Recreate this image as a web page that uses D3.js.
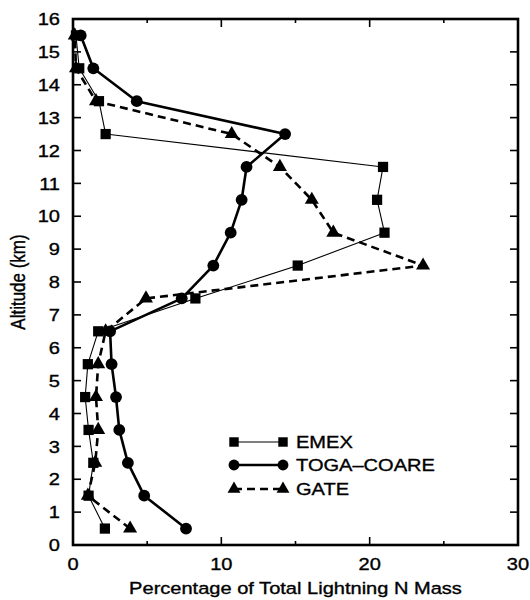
<!DOCTYPE html>
<html>
<head>
<meta charset="utf-8">
<script src="https://cdn.jsdelivr.net/npm/d3@7"></script>
<style>
  html, body { margin: 0; padding: 0; background: #fff; }
  svg { display: block; }
  text { font-family: "Liberation Sans", Arial, Helvetica, sans-serif; fill: #000; stroke: #000; stroke-width: 0.35; }
</style>
</head>
<body>
<div id="chart"></div>
<script>
// Vertical profile of lightning NOx mass, by altitude bin (km)
const altitudes = [0.5, 1.5, 2.5, 3.5, 4.5, 5.5, 6.5, 7.5, 8.5, 9.5, 10.5, 11.5, 12.5, 13.5, 14.5, 15.5];
const emex     = [2.15, 1.05, 1.37, 1.05, 0.82, 1.0, 1.7, 8.25, 15.15, 21.0, 20.5, 20.9, 2.2, 1.75, 0.42, 0.2];
const togaCoare= [7.62, 4.8, 3.7, 3.12, 2.9, 2.6, 2.5, 7.33, 9.46, 10.63, 11.37, 11.7, 14.3, 4.3, 1.37, 0.52];
const gate     = [3.85, 1.0, 1.5, 1.7, 1.55, 1.7, 2.2, 4.92, 23.6, 17.55, 16.1, 13.95, 10.7, 1.55, 0.2, 0.12];
const seriesNames = ["EMEX", "TOGA\u2013COARE", "GATE"];
const xTicksMajor = [0, 10, 20, 30];
const xTicksMinor = [5, 15, 25];
const yTicks = d3.range(0, 17);

const W = 530, H = 600;
const mLeft = 73, mRight = 518, mTop = 19, mBottom = 545;
const FS = 17;        // font size
const SX = 1.18;      // horizontal widening of the lettering

const svg = d3.select("#chart").append("svg").attr("width", W).attr("height", H);

const x = d3.scaleLinear().domain([0, 30]).range([mLeft, mRight]);
const y = d3.scaleLinear().domain([0, 16]).range([mBottom, mTop]);

const series = [
  { name: seriesNames[0], values: emex, width: 1.1, dash: null, symbol: d3.symbolSquare, size: 105 },
  { name: seriesNames[1], values: togaCoare, width: 2.6, dash: null, symbol: d3.symbolCircle, size: 110 },
  { name: seriesNames[2], values: gate, width: 2.6, dash: "8,5", symbol: d3.symbolTriangle, size: 85 }
];

// widened text helper
function label(g, px, py, str, anchor, dy) {
  return g.append("text")
    .attr("transform", `translate(${px},${py}) scale(${SX},1)`)
    .attr("text-anchor", anchor).attr("dy", dy || null)
    .attr("font-size", FS).text(str);
}

// axis ticks pointing inward on all four sides
const tickG = svg.append("g").attr("stroke", "#000").attr("stroke-width", 1.6);
yTicks.forEach(t => {
  if (t === 0 || t === 16) return;
  tickG.append("line").attr("x1", mLeft).attr("x2", mLeft + 8).attr("y1", y(t)).attr("y2", y(t));
  tickG.append("line").attr("x1", mRight).attr("x2", mRight - 8).attr("y1", y(t)).attr("y2", y(t));
});
xTicksMajor.concat(xTicksMinor).forEach(t => {
  if (t === 0 || t === 30) return;
  const len = xTicksMajor.includes(t) ? 8 : 4;
  tickG.append("line").attr("x1", x(t)).attr("x2", x(t)).attr("y1", mBottom).attr("y2", mBottom - len);
  tickG.append("line").attr("x1", x(t)).attr("x2", x(t)).attr("y1", mTop).attr("y2", mTop + len);
});

// tick labels
const yLab = svg.append("g");
yTicks.forEach(d => label(yLab, mLeft - 13, y(d), d, "end", "0.36em"));
const xLab = svg.append("g");
xTicksMajor.forEach(d => label(xLab, x(d), 570, d, "middle"));

// axis titles
label(svg, (mLeft + mRight) / 2, 594, "Percentage of Total Lightning N Mass", "middle");
svg.append("text")
  .attr("transform", `translate(25,${(mTop + mBottom) / 2}) scale(${SX},1) rotate(-90)`)
  .attr("text-anchor", "middle").attr("font-size", FS)
  .text("Altitude (km)");

// profiles
const line = d3.line().x(d => x(d[0])).y(d => y(d[1]));
series.forEach(s => {
  const pts = s.values.map((v, i) => [v, altitudes[i]]);
  svg.append("path").datum(pts).attr("d", line)
    .attr("fill", "none").attr("stroke", "#000")
    .attr("stroke-width", s.width)
    .attr("stroke-dasharray", s.dash)
    .attr("stroke-linejoin", "round");
  svg.append("g").selectAll("path").data(pts).join("path")
    .attr("transform", d => `translate(${x(d[0])},${y(d[1])})`)
    .attr("d", d3.symbol().type(s.symbol).size(s.size))
    .attr("fill", "#000");
});

// legend
const legY = [442, 465, 489];
series.forEach((s, i) => {
  const g = svg.append("g");
  g.append("line").attr("x1", 234).attr("x2", 283).attr("y1", legY[i]).attr("y2", legY[i])
    .attr("stroke", "#000").attr("stroke-width", s.width).attr("stroke-dasharray", s.dash);
  [234, 283].forEach(px => {
    g.append("path").attr("transform", `translate(${px},${legY[i]})`)
      .attr("d", d3.symbol().type(s.symbol).size(s.size * 0.85)).attr("fill", "#000");
  });
  label(g, 296, legY[i], s.name, "start", "0.36em");
});

// frame
svg.append("rect").attr("x", mLeft).attr("y", mTop)
  .attr("width", mRight - mLeft).attr("height", mBottom - mTop)
  .attr("fill", "none").attr("stroke", "#000").attr("stroke-width", 2.6);
</script>
</body>
</html>
